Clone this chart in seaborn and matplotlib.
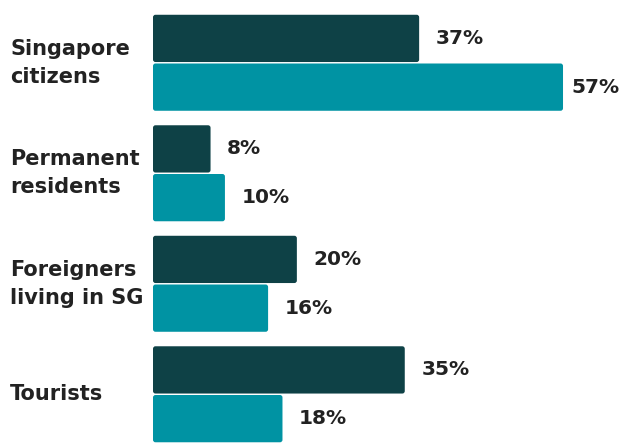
import matplotlib
matplotlib.use("Agg")
import matplotlib.pyplot as plt
import matplotlib.transforms as mtransforms
from matplotlib.patches import FancyBboxPatch
import pandas as pd
import seaborn as sns

# Data
categories = ["Singapore\ncitizens", "Permanent\nresidents", "Foreigners\nliving in SG", "Tourists"]
series_names = ["Series 1", "Series 2"]
series_1 = [37, 8, 20, 35]
series_2 = [57, 10, 16, 18]
colors = ["#0e4146", "#0093a3"]

df = pd.DataFrame({
    "category": categories * 2,
    "series": [series_names[0]] * len(categories) + [series_names[1]] * len(categories),
    "value": series_1 + series_2,
})

sns.set_theme(style="white")
plt.rcParams["font.family"] = ["DejaVu Sans"]

fig = plt.figure(figsize=(6.22, 4.44), dpi=100)
ax = fig.add_axes([153 / 622, 0, 1 - 153 / 622, 1])

sns.barplot(
    data=df, y="category", x="value", hue="series", orient="h",
    palette=colors, width=0.882, gap=0.03, legend=False, ax=ax,
    saturation=1, linewidth=0,
)

ax.set_xlim(0, 65.2)
ax.set_ylim(3.45, -0.568)

# Rounded bar corners
x_unit = 65.2 / 469
y_unit = (3.45 + 0.568) / 444
value_texts = []
for container in ax.containers:
    for rect in container.patches:
        rect.set_visible(False)
        x, y = rect.get_x(), rect.get_y()
        w, h = rect.get_width(), rect.get_height()
        fb = FancyBboxPatch(
            (x, y), w, h,
            boxstyle=f"round,pad=0,rounding_size={2.5 * x_unit}",
            mutation_aspect=y_unit / x_unit,
            facecolor=rect.get_facecolor(), edgecolor="none",
        )
        ax.add_patch(fb)
    value_texts += ax.bar_label(
        container, labels=[f"{v:.0f}%" for v in container.datavalues],
        padding=12, fontsize=14.5, fontweight="bold", color="#222222")

# Pull any value label that would run past the right edge back inside
fig.canvas.draw()
renderer = fig.canvas.get_renderer()
fig_w = fig.bbox.width
for t in value_texts:
    bb = t.get_window_extent(renderer)
    overflow = bb.x1 - (fig_w - 2)
    if overflow > 0:
        dx, dy = t.xyann
        t.xyann = (dx - overflow * 72 / fig.dpi, dy)

# Category labels, left aligned at the figure edge
trans = mtransforms.blended_transform_factory(fig.transFigure, ax.transData)
for i, cat in enumerate(categories):
    ax.text(10 / 622, i, cat, transform=trans, ha="left", va="center",
            fontsize=15, fontweight="bold", color="#222222", linespacing=1.5)

ax.set_yticks([])
ax.set_xticks([])
ax.set_xlabel("")
ax.set_ylabel("")
for s in ax.spines.values():
    s.set_visible(False)

fig.savefig("out.png", dpi=100)
